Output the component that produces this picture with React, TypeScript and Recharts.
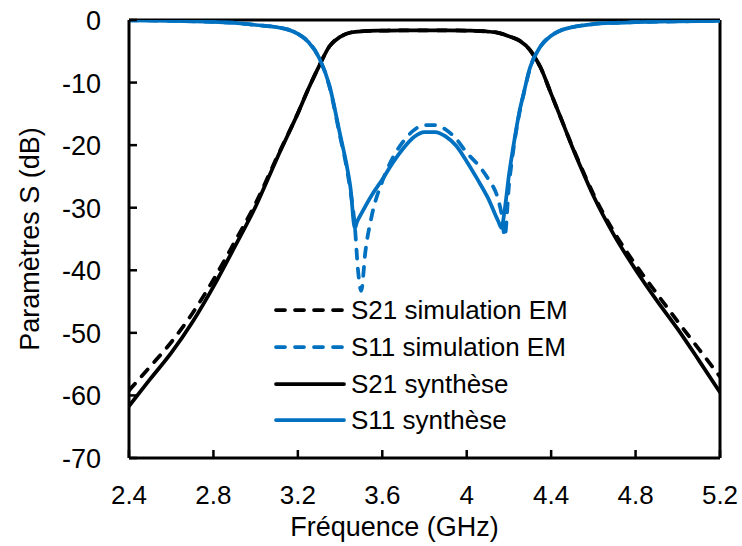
import { LineChart, Line, XAxis, YAxis, Legend, ReferenceLine } from 'recharts'

// fréquences (GHz) et niveaux (dB)
const freqS21 = [2.4, 2.5, 2.6, 2.7, 2.8, 2.9, 3.0, 3.1, 3.2, 3.25, 3.3, 3.35, 3.4, 3.45, 3.5, 3.6, 3.7, 3.8, 3.9, 4.0, 4.1, 4.15, 4.2, 4.25, 4.3, 4.35, 4.4, 4.45, 4.5, 4.55, 4.6, 4.7, 4.8, 4.9, 5.0, 5.1, 5.2]
const s21Synthese = [-61.7, -57.4, -53.2, -48.3, -42.6, -36.3, -29.8, -22.2, -14.9, -11.0, -7.4, -4.2, -2.7, -2.0, -1.8, -1.7, -1.65, -1.65, -1.65, -1.7, -1.85, -2.05, -2.6, -3.3, -4.8, -7.6, -11.8, -16.0, -20.3, -24.3, -28.1, -34.5, -39.9, -44.8, -49.4, -54.4, -59.5]
const s21Simulation = [-59.2, -55.4, -51.5, -46.9, -41.5, -35.5, -29.3, -22.0, -14.9, -11.0, -7.4, -4.2, -2.7, -2.0, -1.8, -1.7, -1.65, -1.65, -1.65, -1.7, -1.85, -2.05, -2.6, -3.3, -4.8, -7.6, -11.8, -16.0, -20.2, -24.1, -27.8, -34.0, -39.1, -43.7, -48.2, -52.6, -57.0]

const freqS11Synthese = [2.4, 2.6, 2.8, 2.9, 3.0, 3.1, 3.15, 3.2, 3.25, 3.3, 3.35, 3.4, 3.43, 3.45, 3.47, 3.48, 3.5, 3.55, 3.6, 3.65, 3.7, 3.75, 3.8, 3.85, 3.9, 3.95, 4.0, 4.05, 4.1, 4.15, 4.165, 4.18, 4.2, 4.22, 4.25, 4.27, 4.3, 4.35, 4.4, 4.45, 4.5, 4.6, 4.7, 4.8, 5.0, 5.2]
const s11Synthese = [-0.05, -0.12, -0.3, -0.45, -0.8, -1.15, -1.5, -2.2, -3.5, -6.0, -10.5, -18.3, -23.0, -27.0, -33.3, -32.3, -31.0, -28.0, -25.5, -22.8, -20.5, -18.7, -17.9, -17.9, -18.6, -20.1, -22.6, -25.4, -28.4, -32.2, -33.2, -30.3, -24.8, -20.4, -14.6, -11.7, -7.6, -4.2, -2.5, -1.6, -1.15, -0.65, -0.45, -0.35, -0.22, -0.15]

const freqS11Simulation = [2.4, 2.6, 2.8, 2.9, 3.0, 3.1, 3.15, 3.2, 3.25, 3.3, 3.35, 3.4, 3.43, 3.45, 3.47, 3.485, 3.5, 3.52, 3.55, 3.6, 3.65, 3.7, 3.75, 3.8, 3.85, 3.9, 3.95, 4.0, 4.05, 4.1, 4.15, 4.165, 4.18, 4.2, 4.22, 4.25, 4.27, 4.3, 4.35, 4.4, 4.45, 4.5, 4.6, 4.7, 4.8, 5.0, 5.2]
const s11Simulation = [-0.05, -0.12, -0.3, -0.45, -0.8, -1.15, -1.5, -2.2, -3.5, -6.0, -10.7, -18.6, -23.4, -27.5, -33.0, -40.0, -43.3, -37.0, -31.3, -25.8, -22.0, -19.4, -17.6, -16.8, -16.8, -17.5, -19.0, -21.2, -23.0, -25.3, -28.8, -31.0, -34.6, -26.5, -21.0, -14.8, -11.8, -7.7, -4.2, -2.5, -1.6, -1.15, -0.65, -0.45, -0.35, -0.22, -0.15]

const xTicks = [2.4, 2.8, 3.2, 3.6, 4.0, 4.4, 4.8, 5.2]
const yTicks = [-70, -60, -50, -40, -30, -20, -10, 0]

const BLUE = '#0070C0'
const FONT = '"Liberation Sans", Arial, sans-serif'
const X_GAP = 46
const Y_GAP = 28

const toPoints = (freqs: number[], values: number[]) =>
  freqs.map((f, i) => ({ f, db: values[i] }))

const series = [
  { name: 'S21 simulation EM', data: toPoints(freqS21, s21Simulation), color: '#000', dash: '9 10' },
  { name: 'S11 simulation EM', data: toPoints(freqS11Simulation, s11Simulation), color: BLUE, dash: '9 10' },
  { name: 'S21 synthèse', data: toPoints(freqS21, s21Synthese), color: '#000', dash: undefined },
  { name: 'S11 synthèse', data: toPoints(freqS11Synthese, s11Synthese), color: BLUE, dash: undefined },
]

const fmtTick = (v: number) => String(Number(v.toFixed(1)))

function XTick({ x, y, payload }: any) {
  return (
    <g>
      <line x1={x} x2={x} y1={y - X_GAP} y2={y - X_GAP - 8} stroke="#000" strokeWidth={2.5} />
      <text x={x} y={y} textAnchor="middle" fontSize={26} fontFamily={FONT} fill="#000">
        {fmtTick(payload.value)}
      </text>
    </g>
  )
}

function YTick({ x, y, payload }: any) {
  return (
    <g>
      <line x1={x + Y_GAP} x2={x + Y_GAP + 8} y1={y} y2={y} stroke="#000" strokeWidth={2.5} />
      <text x={x} y={y} dy={10} textAnchor="end" fontSize={27} fontFamily={FONT} fill="#000">
        {payload.value}
      </text>
    </g>
  )
}

function YTitle({ viewBox }: any) {
  const cx = viewBox.x + 30
  const cy = viewBox.y + viewBox.height / 2
  return (
    <text x={cx} y={cy} transform={`rotate(-90 ${cx} ${cy})`} textAnchor="middle" dominantBaseline="central"
      fontSize={27} fontFamily={FONT} fill="#000">
      Paramètres S (dB)
    </text>
  )
}

function XTitle({ viewBox }: any) {
  const cx = viewBox.x + viewBox.width / 2 - 30
  return (
    <text x={cx} y={viewBox.y + 78} textAnchor="middle" fontSize={27} fontFamily={FONT} fill="#000">
      Fréquence (GHz)
    </text>
  )
}

function LegendBox() {
  return (
    <div style={{ fontFamily: FONT, fontSize: 26, color: '#000' }}>
      {series.map(s => (
        <div key={s.name} style={{ display: 'flex', alignItems: 'center', height: 36.7 }}>
          <svg width={72} height={12} style={{ marginRight: 5 }}>
            <line x1={2} x2={70} y1={6} y2={6} stroke={s.color} strokeWidth={3.75}
              strokeDasharray={s.dash} strokeLinecap="round" />
          </svg>
          <span style={{ whiteSpace: 'nowrap', lineHeight: '26px' }}>{s.name}</span>
        </div>
      ))}
    </div>
  )
}

export default function App() {
  return (
    <div style={{ position: 'absolute', left: 0, top: 0, background: '#fff' }}>
      <LineChart width={742} height={546} margin={{ top: 20, right: 22, left: 0, bottom: 0 }}>
        <XAxis dataKey="f" type="number" domain={[2.4, 5.2]} ticks={xTicks} allowDataOverflow
          height={88} tickSize={0} tickMargin={X_GAP} tick={<XTick />} interval={0}
          axisLine={{ stroke: '#000', strokeWidth: 3 }} label={<XTitle />} />
        <YAxis type="number" domain={[-70, 0]} ticks={yTicks} allowDataOverflow
          width={129} tickSize={0} tickMargin={Y_GAP} tick={<YTick />} interval={0}
          axisLine={{ stroke: '#000', strokeWidth: 3 }} label={<YTitle />} />
        <ReferenceLine y={0} stroke="#000" strokeWidth={3} />
        <ReferenceLine x={5.2} stroke="#000" strokeWidth={3} />
        {series.map(s => (
          <Line key={s.name} data={s.data} dataKey="db" name={s.name} type="monotone"
            stroke={s.color} strokeWidth={3.75} strokeDasharray={s.dash} strokeLinecap="round"
            dot={false} activeDot={false} isAnimationActive={false} />
        ))}
        <Legend layout="vertical" align="center" verticalAlign="middle" content={<LegendBox />}
          wrapperStyle={{ position: 'absolute', left: 274, top: 292, width: 320 }} />
      </LineChart>
    </div>
  )
}
